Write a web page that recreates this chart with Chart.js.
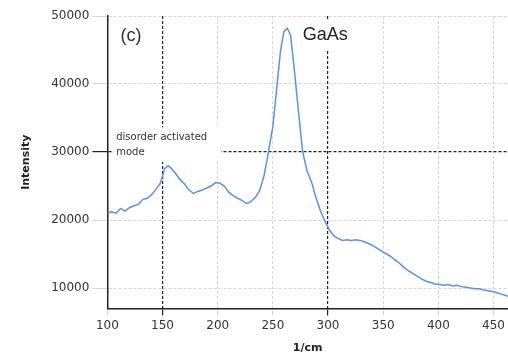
<!DOCTYPE html>
<html>
<head>
<meta charset="utf-8">
<script src="https://cdn.jsdelivr.net/npm/chart.js@4/dist/chart.umd.min.js"></script>
<style>
  body { margin: 0; background: #fff; }
</style>
</head>
<body>
<canvas id="ramanChart" width="508" height="355"></canvas>
<script>
// Raman spectrum (1/cm vs. intensity)
const wavenumbers = [100, 104, 108, 112, 116, 120, 124, 128, 132, 136, 140, 144, 148, 152, 155, 158, 162, 166, 170, 174,
    178, 182, 186, 190, 194, 198, 202, 206, 210, 214, 218, 222, 226, 230, 234, 238, 242, 246, 250, 254,
    257, 260, 263, 266, 269, 273, 277, 281, 285, 289, 293, 297, 301, 305, 309, 313, 317, 321, 325, 329,
    333, 337, 341, 345, 349, 353, 357, 361, 365, 369, 373, 377, 381, 385, 389, 393, 397, 401, 405, 409,
    413, 417, 421, 425, 429, 433, 437, 441, 445, 449, 453, 457, 461, 463];
const intensity = [21000, 21200, 21000, 21700, 21300, 21800, 22100, 22300, 23000, 23200, 23700, 24500, 25400, 27600, 28000, 27600, 26800, 25900, 25300, 24400,
    23900, 24200, 24400, 24700, 25000, 25500, 25400, 25000, 24100, 23600, 23200, 22900, 22400, 22700, 23300, 24300, 26500, 30000, 33800, 40200,
    45000, 47700, 48200, 47200, 42800, 36300, 30000, 27200, 25600, 23300, 21400, 19900, 18600, 17700, 17300, 17000, 17100, 17000, 17100, 17000,
    16800, 16500, 16200, 15800, 15400, 15000, 14600, 14100, 13600, 13000, 12500, 12100, 11700, 11300, 11000, 10800, 10600, 10500, 10400, 10500,
    10300, 10400, 10200, 10100, 10000, 9900, 9900, 9700, 9600, 9500, 9300, 9100, 8900, 8800];

const xTicks = [100, 150, 200, 250, 300, 350, 400, 450];
const yTicks = [10000, 20000, 30000, 40000, 50000];
const markedX = [150, 300];   // dark lines
const markedY = [30000];

// text notes placed in data coordinates
const notes = [
    { text: '(c)', x: 112, y: 47100, font: '18px "Liberation Sans"', box: false },
    { text: 'GaAs', x: 277, y: 47200, font: '18px "Liberation Sans"', box: true },
    { text: 'disorder activated', x: 108, y: 32200, font: '10px "DejaVu Sans"', box: false },
    { text: 'mode', x: 108, y: 30000, font: '10px "DejaVu Sans"', box: false }
];
// white area behind the "disorder activated mode" label
const labelBox = { x1: 105.5, x2: 203, y1: 33650, y2: 28550 };

const points = wavenumbers.map((w, i) => ({ x: w, y: intensity[i] }));

const notesPlugin = {
    id: 'notes',
    afterDatasetsDraw(chart) {
        const { ctx, scales: { x, y } } = chart;
        ctx.save();
        ctx.fillStyle = '#fff';
        ctx.fillRect(x.getPixelForValue(labelBox.x1), y.getPixelForValue(labelBox.y1),
            x.getPixelForValue(labelBox.x2) - x.getPixelForValue(labelBox.x1),
            y.getPixelForValue(labelBox.y2) - y.getPixelForValue(labelBox.y1));
        ctx.textBaseline = 'middle';
        ctx.textAlign = 'left';
        notes.forEach(n => {
            ctx.font = n.font;
            const px = x.getPixelForValue(n.x);
            const py = y.getPixelForValue(n.y);
            if (n.box) {
                const w = ctx.measureText(n.text).width;
                ctx.fillStyle = '#fff';
                ctx.fillRect(px - 3, py - 14, w + 6, 28);
            }
            ctx.fillStyle = n.box ? '#222' : '#333';
            ctx.fillText(n.text, px, py);
        });
        ctx.restore();
    }
};

const ctx = document.getElementById('ramanChart').getContext('2d');
new Chart(ctx, {
    type: 'line',
    data: {
        datasets: [{
            data: points,
            borderColor: '#5b8ff0',
            borderWidth: 1.5,
            pointRadius: 0,
            tension: 0,
            fill: false
        }]
    },
    options: {
        responsive: false,
        animation: false,
        devicePixelRatio: 1,
        layout: { padding: { left: 15, top: 16, right: 0, bottom: 0 } },
        plugins: { legend: { display: false }, tooltip: { enabled: false } },
        scales: {
            x: {
                type: 'linear',
                min: 100,
                max: 463,
                afterBuildTicks: axis => { axis.ticks = xTicks.map(v => ({ value: v })); },
                ticks: {
                    color: '#333',
                    padding: 3,
                    maxRotation: 0,
                    font: { family: 'DejaVu Sans', size: 12 },
                    callback: v => String(v)
                },
                grid: {
                    tickLength: 7,
                    color: c => markedX.includes(c.tick && c.tick.value) ? '#222' : '#d6d6d6',
                    lineWidth: c => markedX.includes(c.tick && c.tick.value) ? 1.2 : 1
                },
                border: { color: '#222', width: 1.5, dash: [3, 2] },
                title: {
                    display: true,
                    text: '1/cm',
                    color: '#222',
                    font: { family: 'DejaVu Sans', size: 11, weight: 'bold' },
                    padding: { top: 6, bottom: 0 }
                }
            },
            y: {
                type: 'linear',
                min: 7000,
                max: 50000,
                afterBuildTicks: axis => { axis.ticks = yTicks.map(v => ({ value: v })); },
                ticks: {
                    color: '#333',
                    padding: 3,
                    font: { family: 'DejaVu Sans', size: 12 },
                    callback: v => String(v)
                },
                grid: {
                    tickLength: 15,
                    color: c => markedY.includes(c.tick && c.tick.value) ? '#222' : '#d6d6d6',
                    lineWidth: c => markedY.includes(c.tick && c.tick.value) ? 1.2 : 1
                },
                border: { color: '#222', width: 1.5, dash: [3, 2] },
                title: {
                    display: true,
                    text: 'Intensity',
                    color: '#222',
                    font: { family: 'DejaVu Sans', size: 11, weight: 'bold' },
                    padding: { top: 5, bottom: 15 }
                }
            }
        }
    },
    plugins: [notesPlugin]
});
</script>
</body>
</html>
